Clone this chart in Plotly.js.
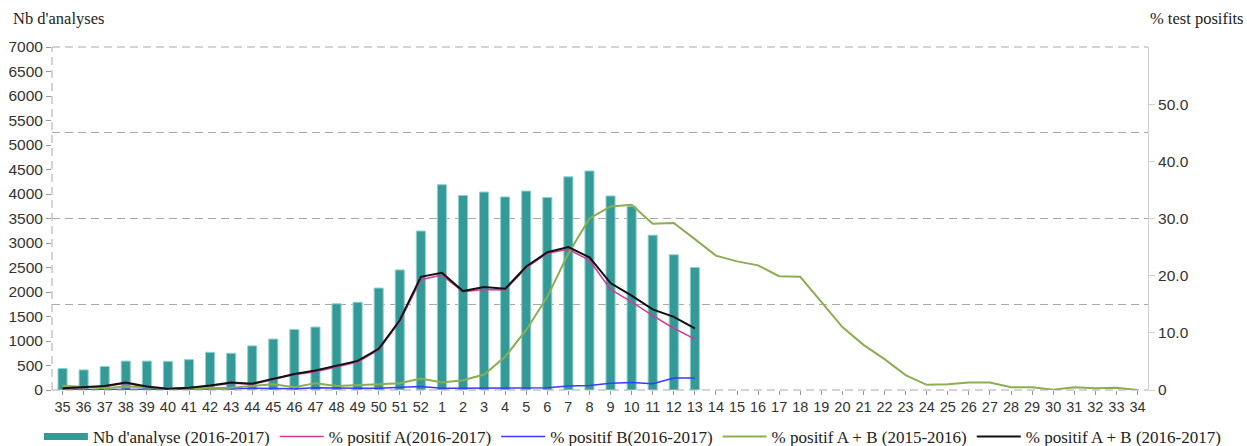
<!DOCTYPE html>
<html>
<head>
<meta charset="utf-8">
<script src="https://cdn.plot.ly/plotly-3.0.1.min.js"></script>
<style>html,body{margin:0;padding:0;background:#fff;}#chart{width:1247px;height:446px;}</style>
</head>
<body>
<div id="chart"></div>
<script>
const weeks = ["35","36","37","38","39","40","41","42","43","44","45","46","47","48","49","50","51","52",
  "1","2","3","4","5","6","7","8","9","10","11","12","13","14","15","16","17","18","19","20","21","22","23","24","25","26","27","28","29","30","31","32","33","34"];

const nbAnalyse = [440,410,480,590,590,585,620,770,750,900,1040,1235,1285,1760,1790,2080,2450,3245,
  4190,3970,4040,3940,4060,3930,4350,4470,3960,3750,3160,2760,2500];

const posA = [0.2,0.4,0.6,1.2,0.5,0.1,0.3,0.7,1.2,1.0,1.8,2.7,3.2,4.0,4.9,7.0,12.0,19.3,
  20.1,17.2,17.6,17.5,21.4,23.9,24.6,22.7,17.6,15.4,13.0,10.8,8.9];

const posB = [0.0,0.1,0.1,0.1,0.1,0.1,0.1,0.1,0.2,0.3,0.3,0.2,0.4,0.3,0.3,0.3,0.4,0.6,
  0.3,0.3,0.3,0.4,0.4,0.4,0.7,0.8,1.2,1.3,1.1,2.1,2.1];

const posAB1516 = [0.75,0.5,0.3,0.6,0.4,0.3,0.3,0.3,0.4,0.7,1.0,0.5,1.2,0.7,0.8,1.0,1.2,2.0,
  1.3,1.7,2.7,5.8,10.5,16.3,23.9,30.0,32.1,32.4,29.1,29.2,26.4,23.5,22.5,21.8,19.9,19.8,15.4,11.0,7.9,5.4,2.6,0.9,1.0,1.3,1.3,0.5,0.5,0.05,0.5,0.3,0.4,0.0];

const posAB1617 = [0.3,0.5,0.7,1.3,0.6,0.2,0.4,0.8,1.3,1.1,1.9,2.8,3.4,4.2,5.1,7.2,12.2,19.8,
  20.5,17.3,18.0,17.7,21.6,24.1,25.0,23.2,18.7,16.5,14.1,12.8,10.8];

const rightTickVals = [0,10,20,30,40,50];
const rightTickText = ["0","10.0","20.0","30.0","40.0","50.0"];

const teal = "#339a98";
const serif = "Liberation Serif, Times New Roman, serif";
const sans = "Liberation Sans, Arial, sans-serif";

const traces = [
  {type:"scatter", mode:"none", x:[], y:[], yaxis:"y3", showlegend:false, hoverinfo:"skip"},
  {type:"bar", x: weeks.slice(0, nbAnalyse.length), y: nbAnalyse, name:"Nb d'analyse (2016-2017)",
   marker:{color:teal, line:{color:"#8fd0cd", width:1}}, showlegend:false, yaxis:"y", hoverinfo:"x+y"},
  {type:"scatter", mode:"lines", x:[null], y:[null], name:"Nb d'analyse (2016-2017)",
   line:{color:teal, width:7}, yaxis:"y", hoverinfo:"skip"},
  {type:"scatter", mode:"lines", x: weeks.slice(0, posA.length), y: posA, name:"% positif A(2016-2017)",
   line:{color:"#d2399a", width:1.5}, yaxis:"y2"},
  {type:"scatter", mode:"lines", x: weeks.slice(0, posB.length), y: posB, name:"% positif B(2016-2017)",
   line:{color:"#3a3aff", width:1.5}, yaxis:"y2"},
  {type:"scatter", mode:"lines", x: weeks, y: posAB1516, name:"% positif A + B (2015-2016)",
   line:{color:"#8cad52", width:2}, yaxis:"y2"},
  {type:"scatter", mode:"lines", x: weeks.slice(0, posAB1617.length), y: posAB1617, name:"% positif A + B (2016-2017)",
   line:{color:"#111111", width:2}, yaxis:"y2"}
];

const layout = {
  width:1247, height:446,
  margin:{l:52, r:99, t:47, b:56, autoexpand:false},
  paper_bgcolor:"#fff", plot_bgcolor:"rgba(0,0,0,0)",
  bargap:0.57,
  showlegend:true,
  legend:{orientation:"h", xref:"paper", yref:"paper", x:1.072, xanchor:"right", y:-0.137, yanchor:"middle",
    font:{family:serif, size:17, color:"#222"}, itemwidth:44, traceorder:"normal", tracegroupgap:0,
    bgcolor:"rgba(0,0,0,0)"},
  xaxis:{type:"category", categoryorder:"array", categoryarray:weeks, range:[-0.5, 51.5],
    showgrid:false, zeroline:false, showline:false, ticks:"outside", ticklen:4, tickcolor:"#999",
    tickangle:0, automargin:false,
    tickfont:{family:sans, size:14.5, color:"#333"}, fixedrange:true},
  yaxis:{range:[0,7000], dtick:500, showgrid:false, zeroline:false, showline:false, automargin:false,
    ticks:"outside", ticklen:5, tickcolor:"#999", tickfont:{family:sans, size:15.5, color:"#333"}},
  yaxis2:{overlaying:"y", side:"right", range:[0,60], tickvals:rightTickVals, ticktext:rightTickText,
    showgrid:false, zeroline:false, showline:true, linecolor:"#d0d0d0", linewidth:1, automargin:false,
    ticks:"outside", ticklen:6, tickcolor:"#d0d0d0", tickfont:{family:sans, size:15.5, color:"#333"}},
  yaxis3:{overlaying:"y", side:"left", range:[0,7000], dtick:1750, showticklabels:false, ticks:"",
    showgrid:true, gridcolor:"#a8a8a8", gridwidth:1, griddash:"8px,5px", zeroline:false, showline:false},
  shapes:[
    {type:"line", xref:"paper", yref:"paper", x0:0, x1:0, y0:0, y1:1, line:{color:"#a8a8a8", width:1, dash:"8px,5px"}},
    {type:"line", xref:"paper", yref:"paper", x0:0, x1:1, y0:0, y1:0, line:{color:"#a8a8a8", width:1, dash:"8px,5px"}},
    {type:"line", xref:"paper", yref:"paper", x0:0, x1:1, y0:1, y1:1, line:{color:"#a8a8a8", width:1, dash:"8px,5px"}}
  ],
  annotations:[
    {text:"Nb d'analyses", xref:"paper", yref:"paper", x:-0.037, y:1.084, xanchor:"left", yanchor:"middle",
     showarrow:false, font:{family:serif, size:16.5, color:"#222"}},
    {text:"% test posifits", xref:"paper", yref:"paper", x:1.0, y:1.084, xanchor:"left", yanchor:"middle",
     showarrow:false, font:{family:serif, size:16.5, color:"#222"}}
  ]
};

Plotly.newPlot("chart", traces, layout, {displayModeBar:false, staticPlot:true});
</script>
</body>
</html>
